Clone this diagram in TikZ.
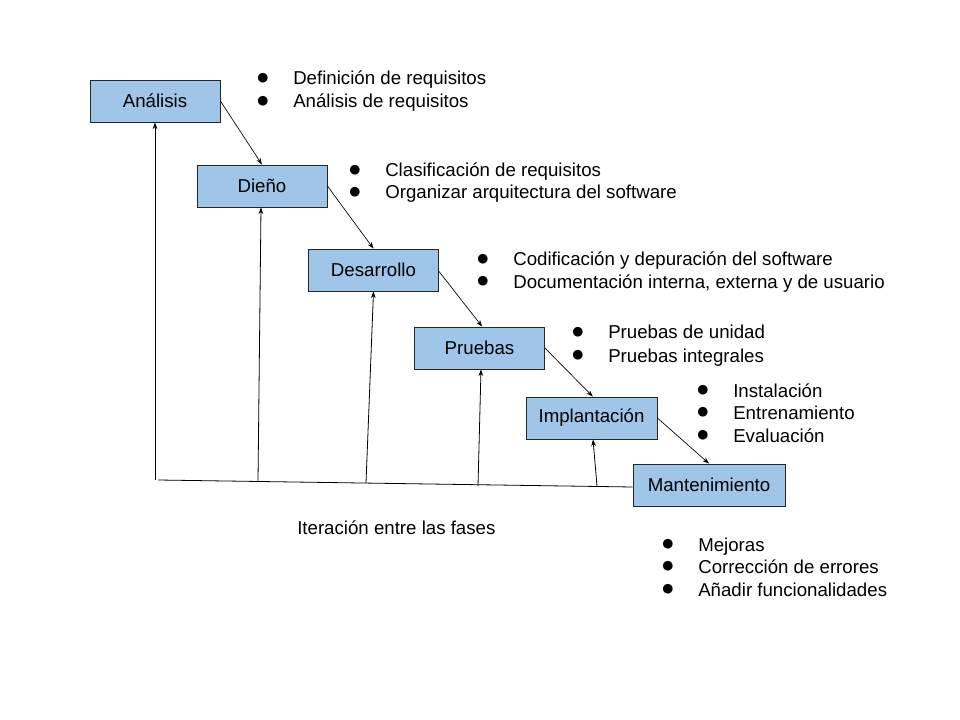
\documentclass[tikz,border=0pt]{standalone}
\usepackage{fontspec}
\setmainfont{Liberation Sans}
\newfontfamily\symfont{DejaVu Sans}
\usetikzlibrary{arrows.meta,calc}
\definecolor{boxblue}{HTML}{9FC5E8}
\begin{document}
\begin{tikzpicture}[x=0.75pt,y=-0.75pt,
  phase/.style={draw=black!85, fill=boxblue, line width=0.6pt, minimum width=97.5pt, minimum height=31.5pt, inner sep=0pt, font=\fontsize{14}{16}\selectfont},
  item/.style={anchor=base west, inner sep=0pt, font=\fontsize{14}{16}\selectfont},
  dot/.style={anchor=center, inner sep=0pt, font=\symfont\fontsize{9.5}{10}\selectfont},
  flow/.style={-{Stealth[length=5pt,width=3.5pt]}, line width=0.5pt},
  back/.style={-{Stealth[length=5pt,width=3.5pt]}, line width=0.6pt}]
\useasboundingbox (0,0) rectangle (960,720);

% phases
\node[phase] (ana) at (155,101) {Análisis};
\node[phase] (die) at (262,186) {Dieño};
\node[phase] (des) at (373.5,270) {Desarrollo};
\node[phase] (pru) at (479.5,348) {Pruebas};
\node[phase, minimum width=98.25pt] (imp) at (591.5,418) {Implantación};
\node[phase, minimum width=114pt] (man) at (709,485) {Mantenimiento};

% cascade arrows
\draw[flow] (ana.east) -- (die.north);
\draw[flow] (die.east) -- (des.north);
\draw[flow] ([yshift=-1]des.east) -- ([xshift=2]pru.north);
\draw[flow] (pru.east) -- ([xshift=1]imp.north);
\draw[flow] (imp.east) -- (man.north);

% iteration base line
\coordinate (b1) at (155,480);
\coordinate (h0) at (158,480);
\coordinate (b2) at (258,481);
\coordinate (b3) at (366,483);
\coordinate (b4) at (478,486);
\coordinate (b5) at (597,486);
\draw[line width=0.6pt] (h0) -- ($(man.west)+(0,2)$);
\draw[back] (b1) -- (ana.south);
\draw[back] (b2) -- ($(die.south)+(-1,0)$);
\draw[back] (b3) -- (des.south);
\draw[back] (b4) -- ($(pru.south)+(1.5,0)$);
\draw[back] (b5) -- ($(imp.south)+(1.5,0)$);

\node[item] (iter) at (297,534) {Iteración entre las fases};

% bullet lists
\node[dot] (d11) at (263,78) {●};
\node[item] (t11) at (293,85) {Definición de requisitos};
\node[dot] (d12) at (263,101) {●};
\node[item] (t12) at (293,108) {Análisis de requisitos};

\node[dot] (d21) at (355,170) {●};
\node[item] (t21) at (385,177) {Clasificación de requisitos};
\node[dot] (d22) at (355,192) {●};
\node[item] (t22) at (385,199) {Organizar arquitectura del software};

\node[dot] (d31) at (483,259) {●};
\node[item] (t31) at (513,266) {Codificación y depuración del software};
\node[dot] (d32) at (483,281) {●};
\node[item] (t32) at (513,288) {Documentación interna, externa y de usuario};

\node[dot] (d41) at (578,332) {●};
\node[item] (t41) at (608,339) {Pruebas de unidad};
\node[dot] (d42) at (578,355) {●};
\node[item] (t42) at (608,362) {Pruebas integrales};

\node[dot] (d51) at (703,390) {●};
\node[item] (t51) at (733,397) {Instalación};
\node[dot] (d52) at (703,412) {●};
\node[item] (t52) at (733,419) {Entrenamiento};
\node[dot] (d53) at (703,435) {●};
\node[item] (t53) at (733,442) {Evaluación};

\node[dot] (d61) at (668,544) {●};
\node[item] (t61) at (698,551) {Mejoras};
\node[dot] (d62) at (668,566) {●};
\node[item] (t62) at (698,573) {Corrección de errores};
\node[dot] (d63) at (668,589) {●};
\node[item] (t63) at (698,596) {Añadir funcionalidades};
\end{tikzpicture}
\end{document}
